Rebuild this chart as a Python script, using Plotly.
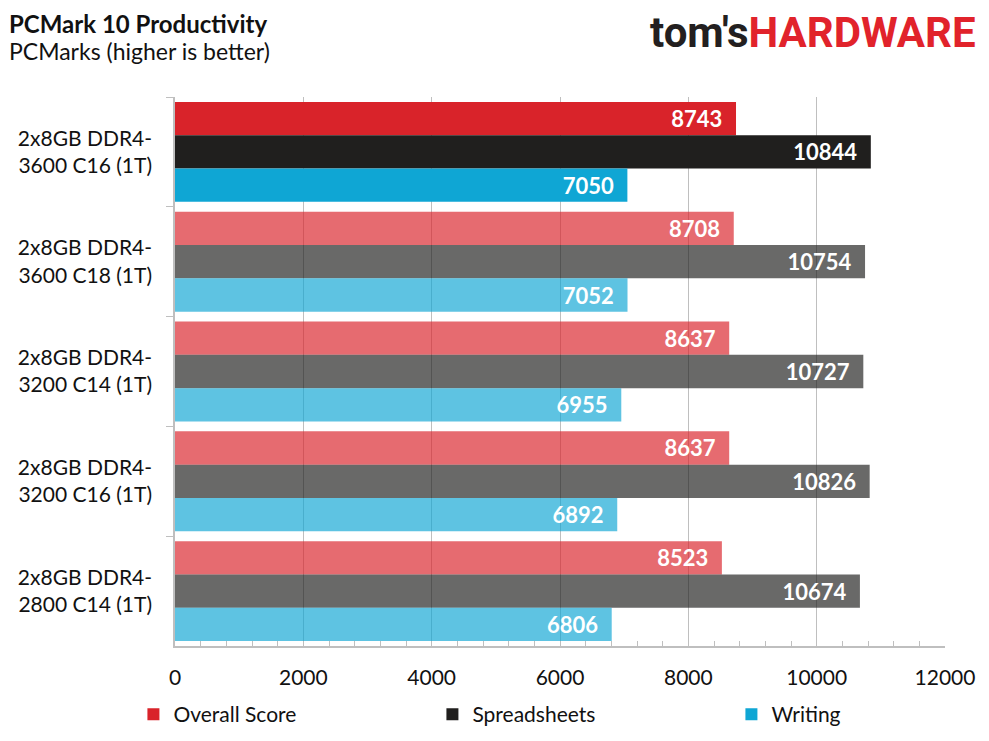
import plotly.graph_objects as go

# Data
configs = [
    "2x8GB DDR4-<br>3600 C16 (1T)",
    "2x8GB DDR4-<br>3600 C18 (1T)",
    "2x8GB DDR4-<br>3200 C14 (1T)",
    "2x8GB DDR4-<br>3200 C16 (1T)",
    "2x8GB DDR4-<br>2800 C14 (1T)",
]
overall = [8743, 8708, 8637, 8637, 8523]
spreadsheets = [10844, 10754, 10727, 10826, 10674]
writing = [7050, 7052, 6955, 6892, 6806]

series = [
    ("Overall Score", overall, (217, 35, 42)),
    ("Spreadsheets", spreadsheets, (32, 31, 30)),
    ("Writing", writing, (15, 166, 212)),
]

FONT = "Lato"


def shades(rgb, n):
    # first row (tested kit) solid, the rest faded
    full = "rgb(%d,%d,%d)" % rgb
    faded = "rgba(%d,%d,%d,0.67)" % rgb
    return [full] + [faded] * (n - 1)


fig = go.Figure()
for name, vals, rgb in series:
    fig.add_trace(go.Bar(
        y=configs,
        x=vals,
        name=name,
        orientation="h",
        marker=dict(color=shades(rgb, len(vals)), line=dict(width=0)),
        text=[f"{v}\u00a0\u00a0" for v in vals],
        textposition="inside",
        insidetextanchor="end",
        textfont=dict(family=FONT, size=22, color="white", weight="bold"),
        cliponaxis=False,
    ))

# page body adds an 8px offset, so the figure is a bit smaller
fig.update_layout(
    width=981,
    height=733,
    barmode="group",
    bargap=0.09,
    bargroupgap=0,
    plot_bgcolor="white",
    paper_bgcolor="white",
    margin=dict(l=167, r=44, t=89, b=95, autoexpand=False),
    font=dict(family=FONT, size=21, color="#111111"),
    legend=dict(
        orientation="h",
        x=-0.054,
        xanchor="left",
        y=-0.125,
        yanchor="middle",
        entrywidth=254,
        font=dict(size=21),
        itemwidth=30,
    ),
    showlegend=True,
)

fig.update_xaxes(
    range=[0, 12000],
    dtick=2000,
    tickformat="d",
    automargin=False,
    showgrid=True,
    gridcolor="#BFBFBF",
    gridwidth=1,
    showline=True,
    linecolor="#BFBFBF",
    linewidth=1.5,
    ticks="inside",
    ticklen=5,
    tickcolor="#BFBFBF",
    minor=dict(dtick=400, ticks="inside", ticklen=5, tickcolor="#BFBFBF", showgrid=False),
    ticklabelstandoff=12,
    zeroline=False,
    tickfont=dict(size=21),
)

fig.update_yaxes(
    autorange="reversed",
    automargin=False,
    showline=True,
    linecolor="#BFBFBF",
    linewidth=1.5,
    ticks="outside",
    tickson="boundaries",
    ticklen=7,
    tickcolor="#BFBFBF",
    ticklabelstandoff=17,
    showgrid=False,
    tickfont=dict(size=21),
)

# titles
fig.add_annotation(
    text="<b>PCMark 10 Productivity</b>", xref="paper", yref="paper",
    x=-0.218, y=1 + 74 / 549, xanchor="left", yanchor="middle",
    showarrow=False, font=dict(size=24, color="#111111"),
)
fig.add_annotation(
    text="PCMarks (higher is better)", xref="paper", yref="paper",
    x=-0.218, y=1 + 46 / 549, xanchor="left", yanchor="middle",
    showarrow=False, font=dict(size=23, color="#111111"),
)
# logo
fig.add_annotation(
    text="<b><span style='color:#231F20'>tom's</span><span style='color:#E1232B'>HARDWARE</span></b>",
    xref="paper", yref="paper",
    x=(978 - 175) / 770, y=1 + 64 / 549, xanchor="right", yanchor="middle",
    showarrow=False, font=dict(family="Roboto", size=42),
)

fig.write_html("out.html")
